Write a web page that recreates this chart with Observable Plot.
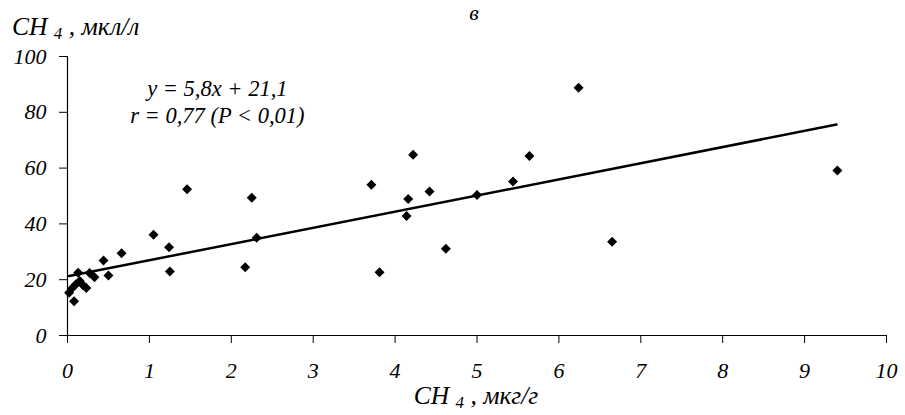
<!DOCTYPE html>
<html>
<head>
<meta charset="utf-8">
<script src="https://cdn.jsdelivr.net/npm/d3@7"></script>
<script src="https://cdn.jsdelivr.net/npm/@observablehq/plot@0.6"></script>
<style>
  html, body { margin: 0; padding: 0; background: #fff; }
  #chart svg { display: block; }
  #chart svg text { font-family: "Liberation Serif", "Times New Roman", "DejaVu Serif", serif !important; font-style: italic; }
</style>
</head>
<body>
<div id="chart"></div>
<script>
// Scatter points: CH4 in soil (мкг/г) vs CH4 in water (мкл/л)
const pointX = [0.02, 0.08, 0.05, 0.10, 0.13, 0.15, 0.19, 0.23, 0.27, 0.33, 0.44, 0.50, 0.66,
                1.05, 1.24, 1.25, 1.46, 2.17, 2.25, 2.31, 3.71, 3.81, 4.14, 4.16, 4.22, 4.42,
                4.62, 5.00, 5.44, 5.64, 6.24, 6.65, 9.40];
const pointY = [15.3, 12.3, 16.8, 18.3, 22.5, 19.5, 18.0, 17.0, 22.4, 20.9, 26.9, 21.5, 29.5,
                36.1, 31.6, 22.9, 52.4, 24.5, 49.4, 35.0, 54.0, 22.7, 42.8, 48.9, 64.8, 51.6,
                31.1, 50.4, 55.2, 64.3, 88.8, 33.6, 59.1];
// Trend line endpoints
const trendX = [0.02, 9.39];
const trendY = [21.3, 75.6];
const xTicks = [0, 1, 2, 3, 4, 5, 6, 7, 8, 9, 10];
const yTicks = [0, 20, 40, 60, 80, 100];
const equationLines = ["y = 5,8x + 21,1", "r = 0,77 (P < 0,01)"];
const equationX = [1.83, 1.83];
const equationY = [88.5, 78.9];

const points = pointX.map((x, i) => ({x, y: pointY[i]}));
const trend = trendX.map((x, i) => ({x, y: trendY[i]}));
const eq = equationLines.map((t, i) => ({t, x: equationX[i], y: equationY[i]}));

const FONT = "Liberation Serif, Times New Roman, serif";

const chart = Plot.plot({
  width: 905,
  height: 415,
  marginLeft: 67,
  marginRight: 19,
  marginTop: 56,
  marginBottom: 80,
  style: {fontFamily: FONT, fontStyle: "italic", fontSize: "22px", background: "#fff", color: "#000"},
  x: {domain: [0, 10]},
  y: {domain: [0, 100]},
  marks: [
    Plot.axisX(xTicks, {tickSize: 8, tickPadding: 19, label: null, fontSize: 22, tickFormat: d => String(d)}),
    Plot.axisY(yTicks, {tickSize: 8, tickPadding: 13, label: null, fontSize: 22, tickFormat: d => String(d)}),
    Plot.ruleY([0], {stroke: "#000", strokeWidth: 1.2}),
    Plot.ruleX([0], {stroke: "#000", strokeWidth: 1.2}),
    Plot.line(trend, {x: "x", y: "y", stroke: "#000", strokeWidth: 2.5}),
    Plot.dot(points, {x: "x", y: "y", symbol: "diamond2", r: 4.5, fill: "#000", stroke: "none"}),
    Plot.text(eq, {x: "x", y: "y", text: "t", fontSize: 22.5, textAnchor: "middle", fill: "#000"})
  ]
});

document.getElementById("chart").appendChild(chart);

// Titles with subscripts
const svg = d3.select(chart);
function subTitle(x, y, anchor, rest) {
  const t = svg.append("text")
    .attr("x", x).attr("y", y)
    .attr("text-anchor", anchor)
    .attr("font-size", 25.5)
    .attr("fill", "#000");
  t.append("tspan").text("CH ");
  t.append("tspan").attr("font-size", 17).attr("dy", 4).text("4");
  t.append("tspan").attr("dy", -4).text(" " + rest);
  return t;
}
subTitle(12, 35, "start", ", мкл/л");
subTitle(476, 404, "middle", ", мкг/г");

svg.append("text")
  .attr("x", 474).attr("y", 20)
  .attr("text-anchor", "middle")
  .attr("font-size", 22)
  .attr("fill", "#000")
  .text("в");
</script>
</body>
</html>
